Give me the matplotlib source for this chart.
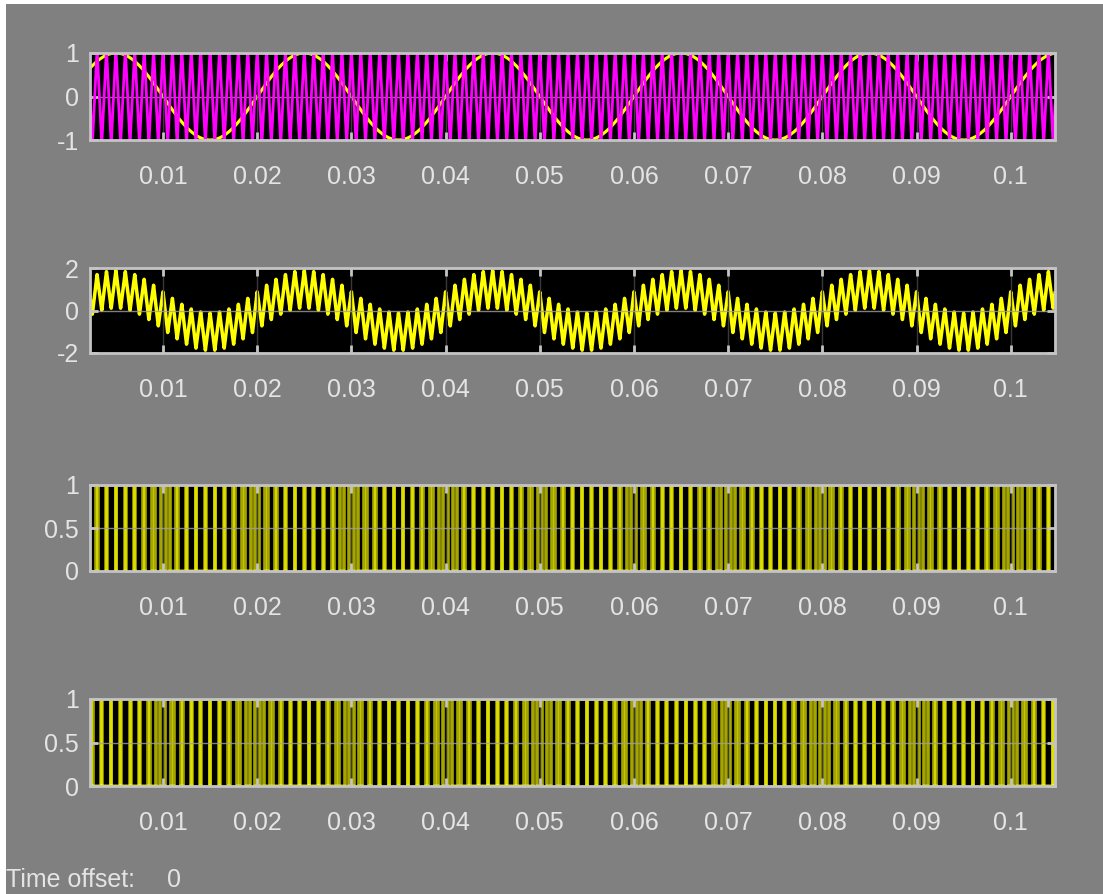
"""Scope-style view of a sine-triangle PWM modulator (4 stacked traces)."""

import numpy as np
import matplotlib
matplotlib.use("Agg")
import matplotlib.pyplot as plt
from matplotlib.patches import Rectangle

plt.rcParams["font.family"] = ["Liberation Sans", "DejaVu Sans"]
plt.rcParams["axes.unicode_minus"] = False

# signal parameters
REF_FREQ = 50.0          # Hz, reference sine
REF_AMP = 1.0
CARRIER_FREQ = 1000.0    # Hz, triangle carrier
CARRIER_AMP = 1.1        # carrier peak (clipped by the +-1 axis in trace 1)
MIX_GAIN = 0.8           # carrier share added to the sine in trace 2
T_START, T_END = 0.0, 0.105
DT = 1e-6

X_TICKS = [0.01, 0.02, 0.03, 0.04, 0.05, 0.06, 0.07, 0.08, 0.09, 0.1]
X_LABELS = ["0.01", "0.02", "0.03", "0.04", "0.05", "0.06", "0.07", "0.08", "0.09", "0.1"]
X_LIM = (0.00225, 0.1047)
Y_TICKS = [[-1, 0, 1], [-2, 0, 2], [0, 0.5, 1], [0, 0.5, 1]]
Y_LABELS = [["-1", "0", "1"], ["-2", "0", "2"], ["0", "0.5", "1"], ["0", "0.5", "1"]]

BG = "#808080"
FG = "#e4e4e4"
SPINE = "#c4c4c4"
MAGENTA = "#ff00ff"
YELLOW = "#ffff00"

t = np.arange(T_START, T_END, DT)
ref = REF_AMP * np.sin(2 * np.pi * REF_FREQ * t)
phase = (t * CARRIER_FREQ) % 1.0
carrier = CARRIER_AMP * (2 * np.abs(2 * phase - 1) - 1)
mixed = ref + MIX_GAIN * carrier
gate_a = (ref > carrier).astype(float)
gate_b = (-ref > carrier).astype(float)

# axes boxes in pixels (top, bottom) for a 1103x894 canvas
W, H = 1103, 894
LEFT, RIGHT = 90, 1055
BOXES = [(53, 140), (268, 353), (485, 571), (699, 786)]

fig = plt.figure(figsize=(W / 100, H / 100), dpi=100, facecolor=BG)
fig.add_artist(Rectangle((0, 0), 6 / W, 1, transform=fig.transFigure,
                         facecolor="white", edgecolor="none"))
fig.add_artist(Rectangle((0, 1 - 4 / H), 1, 4 / H, transform=fig.transFigure,
                         facecolor="white", edgecolor="none"))

axes = []
for top, bot in BOXES:
    ax = fig.add_axes([LEFT / W, 1 - bot / H, (RIGHT - LEFT) / W, (bot - top) / H])
    ax.set_facecolor("black")
    axes.append(ax)

axes[0].plot(t, ref, color=YELLOW, lw=2.2, zorder=2)
axes[0].plot(t, carrier, color=MAGENTA, lw=2.0, zorder=3)
axes[1].plot(t, mixed, color=YELLOW, lw=2.5)


def draw_gate(ax, g):
    # switching edges as separate strokes so dense edges build up brightness
    edges = t[np.nonzero(np.diff(g))[0] + 1]
    ax.vlines(edges, 0, 1, color=YELLOW, lw=2.6, alpha=0.65)
    ax.plot(t, np.where(g > 0.5, 1.0, np.nan), color=YELLOW, lw=2)
    ax.plot(t, np.where(g < 0.5, 0.0, np.nan), color=YELLOW, lw=2)


draw_gate(axes[2], gate_a)
draw_gate(axes[3], gate_b)

for i, ax in enumerate(axes):
    ax.set_xlim(*X_LIM)
    ax.set_ylim(Y_TICKS[i][0], Y_TICKS[i][-1])
    ax.set_xticks(X_TICKS)
    ax.set_xticklabels(X_LABELS)
    ax.set_yticks(Y_TICKS[i])
    ax.set_yticklabels(Y_LABELS[i])
    ax.tick_params(axis="both", direction="in", length=6, width=2, color=SPINE,
                   labelcolor=FG, labelsize=18, top=True, right=True)
    ax.tick_params(axis="x", pad=18)
    ax.tick_params(axis="y", pad=8)
    ax.set_axisbelow(False)
    ax.grid(axis="x", color="#3a3a3a", lw=1.0)
    ax.grid(axis="y", color="#a0a0a0", lw=1.0, alpha=0.8)
    for s in ax.spines.values():
        s.set_color(SPINE)
        s.set_linewidth(2)
        s.set_zorder(5)

fig.text(6 / W, 1 - 880 / H, "Time offset:", color=FG, fontsize=18, va="center")
fig.text(167 / W, 1 - 880 / H, "0", color=FG, fontsize=18, va="center")

fig.savefig("out.png", dpi=100, facecolor=BG)
